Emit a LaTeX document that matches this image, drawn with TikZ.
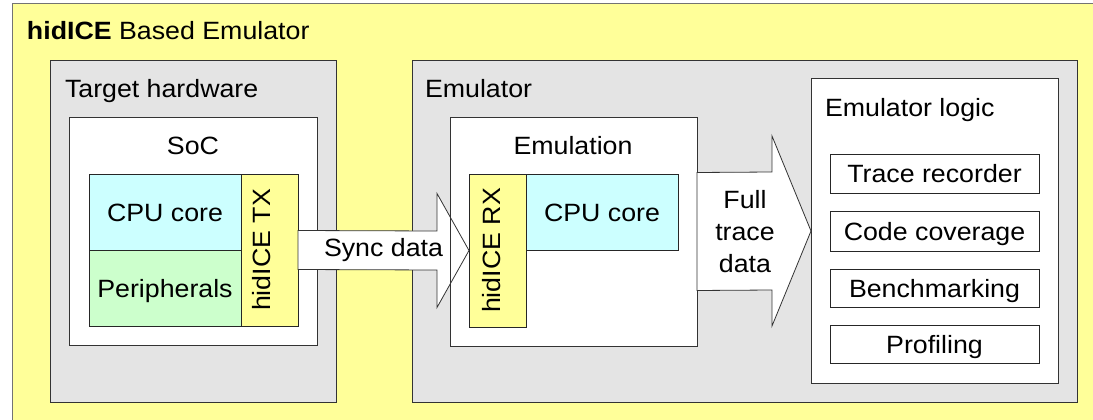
\documentclass[tikz,border=0pt]{standalone}
\usepackage{fontspec}
\setmainfont{Liberation Sans}[FakeStretch=1.07]
\usetikzlibrary{positioning,calc}

\definecolor{padyellow}{RGB}{255,255,153}
\definecolor{boxgrey}{RGB}{228,228,228}
\definecolor{corecyan}{RGB}{204,255,255}
\definecolor{perigreen}{RGB}{204,255,204}

\begin{document}
\begin{tikzpicture}[
        x=1pt, y=-1pt,
        every node/.style={font=\fontsize{25}{32}\selectfont, inner sep=0pt, outer sep=0pt},
        area/.style={rectangle, draw=black!80, line width=1pt, anchor=north west},
        part/.style={rectangle, draw=black!85, line width=1pt, text height=18pt, text depth=0pt},
        feature/.style={part, fill=white, minimum width=209pt, minimum height=39pt},
        title/.style={anchor=base west},
        vlabel/.style={rotate=90, anchor=base},
        bigarrow/.style={draw=black!80, line width=0.8pt, fill=white, line join=miter}
    ]

    \clip (0,0) rectangle (1093,420);

    % Outer frame
    \node[area, fill=padyellow, draw=black!55, minimum width=1100pt, minimum height=440pt] (board) at (12.7,3.3) {};
    \node[title] (boardtitle) at (27,40) {\textbf{hidICE} Based Emulator};

    % Target hardware side
    \node[area, fill=boxgrey, minimum width=286pt, minimum height=341pt] (target) at (50,61) {};
    \node[title] (targettitle) at (65,97) {Target hardware};
    \node[area, fill=white, minimum width=248pt, minimum height=228pt] (soc) at (69,117) {};
    \node (soctitle) at (193,146) {SoC};
    \node[part, fill=corecyan, anchor=north west, minimum width=152pt, minimum height=76pt] (tcpu) at (89,174) {CPU core};
    \node[part, fill=perigreen, minimum width=152pt, minimum height=76pt, below=0pt of tcpu] (periph) {Peripherals};
    \node[part, fill=padyellow, anchor=north west, minimum width=57pt, minimum height=152pt] (tx) at (tcpu.north east) {};
    \node[vlabel] (txlabel) at ([xshift=1pt]tx.center) {hidICE TX};

    % Emulator side
    \node[area, fill=boxgrey, minimum width=665pt, minimum height=341pt] (emulator) at (412,61) {};
    \node[title] (emulatortitle) at (425,98) {Emulator};
    \node[area, fill=white, minimum width=247pt, minimum height=229pt] (emulation) at (450,117) {};
    \node (emulationtitle) at (573,146) {Emulation};
    \node[part, fill=padyellow, anchor=north west, minimum width=57pt, minimum height=153pt] (rx) at (469,174) {};
    \node[vlabel] (rxlabel) at ([xshift=3pt]rx.center) {hidICE RX};
    \node[part, fill=corecyan, anchor=north west, minimum width=152pt, minimum height=76pt] (ecpu) at (rx.north east) {CPU core};

    % Emulator logic
    \node[area, fill=white, minimum width=247pt, minimum height=304pt] (logic) at (811,79) {};
    \node[title] (logictitle) at (825,116) {Emulator logic};
    \node[feature, anchor=north west] (trace) at (830,154) {Trace recorder};
    \node[feature, below=18pt of trace, minimum height=40pt] (coverage) {Code coverage};
    \node[feature, below=18pt of coverage, minimum height=38pt] (bench) {Benchmarking};
    \node[feature, below=18pt of bench, minimum height=38pt] (profiling) {Profiling};

    % Block arrows
    \draw[bigarrow] ([yshift=-19.5pt]tx.east) -- ([xshift=-32pt,yshift=-19.5pt]rx.west)
        -- ([xshift=-32pt,yshift=-57pt]rx.west) -- (rx.west)
        -- ([xshift=-32pt,yshift=57pt]rx.west) -- ([xshift=-32pt,yshift=19.5pt]rx.west)
        -- ([yshift=19.5pt]tx.east) -- cycle;
    \node (synclabel) at ($(tx.east)!0.5!(rx.west)$) {Sync data};
    % emulation frame stays visible over the arrow head
    \draw[draw=black!80, line width=1pt] (emulation.north west) rectangle (emulation.south east);

    \draw[bigarrow] ([yshift=-59pt]emulation.east) -- ([xshift=-39pt,yshift=-59pt]logic.west)
        -- ([xshift=-39pt,yshift=-95pt]logic.west) -- (logic.west)
        -- ([xshift=-39pt,yshift=95pt]logic.west) -- ([xshift=-39pt,yshift=59pt]logic.west)
        -- ([yshift=59pt]emulation.east) -- cycle;
    \node[align=center] (tracelabel) at ($(emulation.east)!0.5!(logic.west)+(-9,0)$) {Full\\trace\\data};

\end{tikzpicture}
\end{document}
